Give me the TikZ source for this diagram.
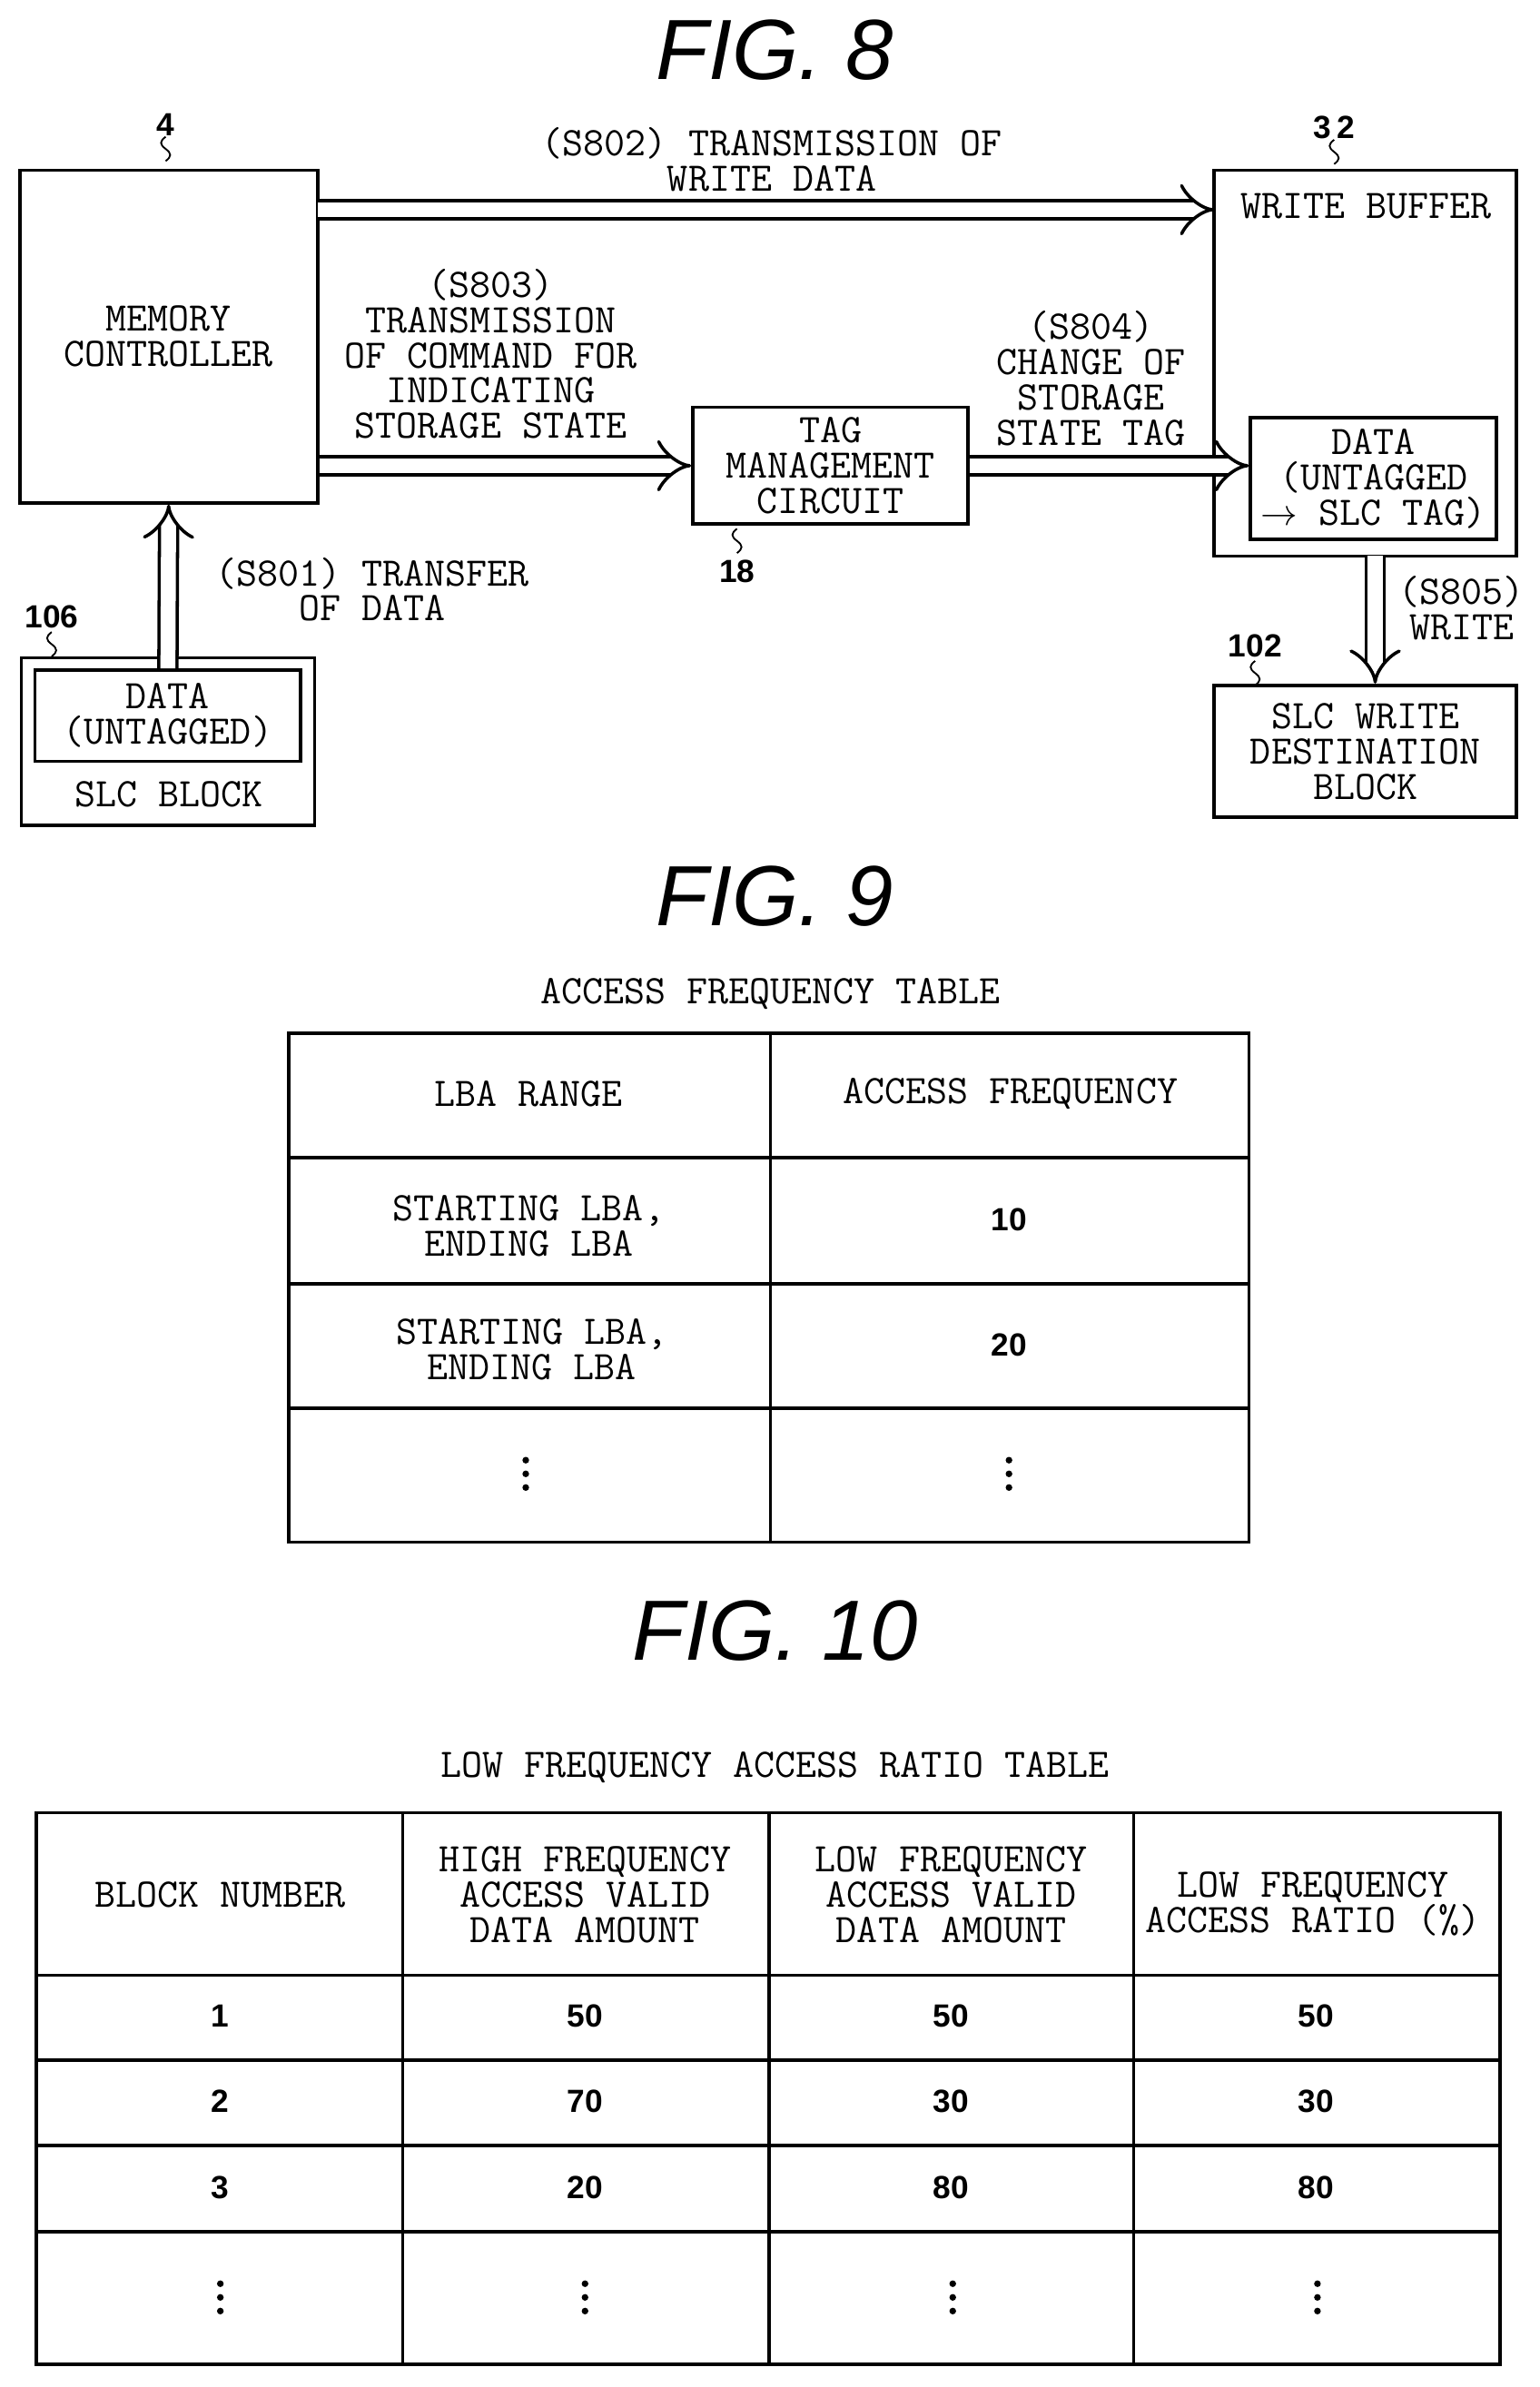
\documentclass[tikz,border=0pt]{standalone}
\usepackage{fontspec}
\setmainfont{Liberation Sans}
\usetikzlibrary{arrows.meta}
\tikzset{
  box/.style={draw, line width=1.6pt},
  txt/.style={font=\fontfamily{lmtt}\selectfont\fontsize{19}{16.5}\selectfont, align=center},
  num/.style={font=\bfseries\fontsize{15}{18}\selectfont},
  fig/.style={font=\itshape\fontsize{40}{46}\selectfont},
  hollow/.style={double, double distance=7pt, line width=1.5pt, -{Implies[length=10pt,width=18pt]}},
  ref/.style={num, inner sep=1pt},
}
\newcommand{\squig}[1]{\draw[line width=0.8pt] (#1) ++(0,4) .. controls +(-4,3) and +(-4,-3) .. ++(0,8) .. controls +(4,3) and +(4,-3) .. ++(0,8);}
\newcommand{\vdts}[1]{\foreach \k in {-1,0,1} \fill (#1) ++(0,\k*9) circle (2.2);}
\begin{document}
\begin{tikzpicture}[x=0.025cm,y=-0.025cm]
  \useasboundingbox (0,0) rectangle (1013,1571);
  % FIG. 8
  \node[fig] (f8) at (510,33) {FIG. 8};
  \node[box, minimum width=196*0.025cm, minimum height=219*0.025cm, txt] (mc) at (111,221.5) {MEMORY\\CONTROLLER};
  \draw[box] (799,112) rectangle (998,366);
  \coordinate (wb) at (898.5,239);
  \node[txt] (wbt) at (899,136) {WRITE BUFFER};
  \node[box, minimum width=162*0.025cm, minimum height=80*0.025cm, txt, inner sep=1pt] (dt) at (904,315) {DATA\\(UNTAGGED\\$\rightarrow$ SLC TAG)};
  \node[box, minimum width=181*0.025cm, minimum height=77*0.025cm, txt, inner sep=1pt] (tmc) at (546.5,306.5) {TAG\\MANAGEMENT\\CIRCUIT};
  \draw[box] (14,433) rectangle (207,543);
  \node[box, minimum width=175*0.025cm, minimum height=60*0.025cm, txt, inner sep=1pt] (slcd) at (110.5,471) {DATA\\(UNTAGGED)};
  \node[txt] (slc) at (111,523) {SLC BLOCK};
  \node[box, minimum width=199*0.025cm, minimum height=87*0.025cm, txt, inner sep=1pt] (dest) at (898.5,494.5) {SLC WRITE\\DESTINATION\\BLOCK};
  % reference numerals
  \node[ref] (r4) at (109,82) {4}; \squig{109,86}
  \node[ref] (r32) at (878,84) {3\,2}; \squig{878,88}
  \node[ref] (r18) at (485,376) {18}; \squig{485,344}
  \node[ref] (r106) at (34,406) {106}; \squig{34,412}
  \node[ref] (r102) at (826,425) {102}; \squig{826,431}
  % arrows
  \coordinate (a1) at (209,138); \coordinate (b1) at (799,138);
  \draw[hollow] (a1) -- (b1);
  \node[txt] (s802) at (508,105) {(S802) TRANSMISSION OF\\WRITE DATA};
  \draw[hollow] (mc.east |- tmc) -- (tmc.west);
  \node[txt] (s803) at (323,233) {(S803)\\TRANSMISSION\\OF COMMAND FOR\\INDICATING\\STORAGE STATE};
  \draw[hollow] (tmc.east) -- (dt.west |- tmc);
  \node[txt] (s804) at (718,249) {(S804)\\CHANGE OF\\STORAGE\\STATE TAG};
  \draw[hollow] (slcd.north) -- (mc.south);
  \node[txt] (s801) at (245,388) {(S801) TRANSFER\\OF DATA};
  \coordinate (wbb) at (905,366);
  \draw[hollow] (wbb) -- (dest.north -| wbb);
  \node[txt] (s805) at (962,400) {(S805)\\WRITE};
  % FIG. 9
  \node[fig] (f9) at (510,590) {FIG. 9};
  \node[txt] (t9) at (507,654) {ACCESS FREQUENCY TABLE};
  \draw[box] (190,680) rectangle (822,1015);
  \draw[box] (507,680) -- (507,1015);
  \foreach \y in {762,845,927} \draw[box] (190,\y) -- (822,\y);
  \node[txt] (lba) at (348,720) {LBA RANGE};
  \node[txt] (af) at (665,720) {ACCESS FREQUENCY};
  \node[txt] (r1a) at (348,807) {STARTING LBA,\\ENDING LBA};
  \node[num] (r1b) at (664,803) {10};
  \node[txt] (r2a) at (350,888) {STARTING LBA,\\ENDING LBA};
  \node[num] (r2b) at (664,885) {20};
  \vdts{346,970}
  \vdts{664,970}
  % FIG. 10
  \node[fig] (f10) at (510,1073) {FIG. 10};
  \node[txt] (t10) at (510,1163) {LOW FREQUENCY ACCESS RATIO TABLE};
  \draw[box] (24,1193) rectangle (987,1556);
  \foreach \x in {265,506,746} \draw[box] (\x,1193) -- (\x,1556);
  \foreach \y in {1300,1356,1412,1469} \draw[box] (24,\y) -- (987,\y);
  \node[txt] (h1) at (145,1247) {BLOCK NUMBER};
  \node[txt] (h2) at (385,1247) {HIGH FREQUENCY\\ACCESS VALID\\DATA AMOUNT};
  \node[txt] (h3) at (626,1247) {LOW FREQUENCY\\ACCESS VALID\\DATA AMOUNT};
  \node[txt] (h4) at (864,1253) {LOW FREQUENCY\\ACCESS RATIO (\%)};
  \foreach \y/\a/\b/\c/\d in {1327/1/50/50/50, 1383/2/70/30/30, 1440/3/20/80/80} {
    \node[num] at (145,\y) {\a};
    \node[num] at (385,\y) {\b};
    \node[num] at (626,\y) {\c};
    \node[num] at (866,\y) {\d};
  }
  \foreach \x in {145,385,627,867} {\vdts{\x,1512}}
\end{tikzpicture}
\end{document}
